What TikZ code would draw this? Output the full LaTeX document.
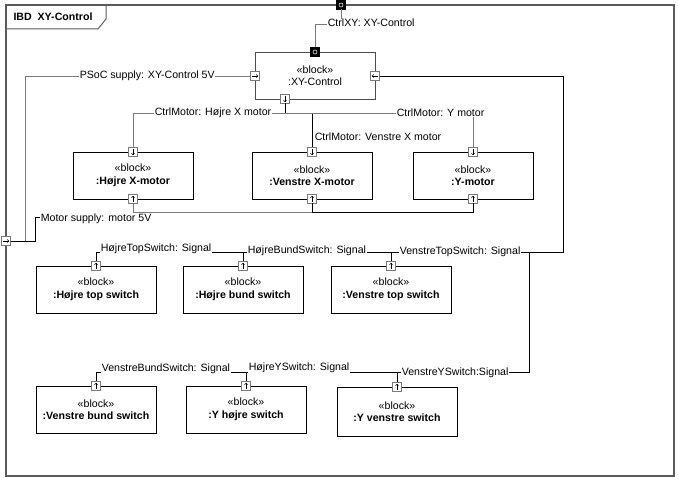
\documentclass[tikz,border=0pt]{standalone}
\usepackage{fontspec}
\setmainfont{Liberation Sans}
\usetikzlibrary{arrows.meta}
\definecolor{cg}{HTML}{7A7A7A}
\definecolor{frc}{HTML}{5A5A5A}
\begin{document}
\begin{tikzpicture}[x=1pt,y=-1pt, font=\fontsize{10.6}{12.5}\selectfont,
  blk/.style={draw=black, line width=0.8pt, fill=white, minimum width=120pt, minimum height=47pt, align=center, inner sep=0pt},
  port/.style={draw=cg, fill=white, line width=0.9pt, minimum size=9pt, inner sep=0pt, outer sep=0pt},
  parr/.style={black, line width=0.55pt, -{Straight Barb[length=1.6pt,width=3pt]}},
  pdn/.style={port, path picture={\draw[parr] ([yshift=-1.3pt]path picture bounding box.north) -- ([yshift=1.3pt]path picture bounding box.south);}},
  pup/.style={port, path picture={\draw[parr] ([yshift=1.3pt]path picture bounding box.south) -- ([yshift=-1.3pt]path picture bounding box.north);}},
  prt/.style={port, path picture={\draw[parr] ([xshift=1.3pt]path picture bounding box.west) -- ([xshift=-1.3pt]path picture bounding box.east);}},
  plt/.style={port, path picture={\draw[parr] ([xshift=-1.3pt]path picture bounding box.east) -- ([xshift=1.3pt]path picture bounding box.west);}},
  pblk/.style={draw=black, fill=black, minimum size=9pt, inner sep=0pt, outer sep=0pt, path picture={\draw[white, line width=0.5pt] (path picture bounding box.center) circle (2pt);}},
  conn/.style={draw=black, line width=0.8pt},
  conng/.style={draw=cg, line width=0.8pt},
  lbl/.style={fill=white, inner sep=0.6pt, anchor=west},
]
\useasboundingbox (0,0) rectangle (678,478);
% frame
\draw[frc, line width=1.3pt] (6,5) rectangle (674,476);
\draw[frc, line width=1pt] (6,29) -- (98,29) -- (106,19) -- (106,5);
\node[anchor=west, font=\fontsize{10.6}{12.5}\selectfont\bfseries] (title) at (10,17) {IBD\ \ XY-Control};

% blocks
\node[blk, draw=gray!60!black] (xy) at (315,75.5) {«block»\\:XY-Control};
\node[blk] (hx) at (133,175.5) {«block»\\\textbf{:Højre X-motor}};
\node[blk] (vx) at (312,175.5) {«block»\\\textbf{:Venstre X-motor}};
\node[blk] (ym) at (473,175.5) {«block»\\\textbf{:Y-motor}};
\node[blk] (hts) at (96,289.5) {«block»\\\textbf{:Højre top switch}};
\node[blk] (hbs) at (243,289.5) {«block»\\\textbf{:Højre bund switch}};
\node[blk] (vts) at (391,289.5) {«block»\\\textbf{:Venstre top switch}};
\node[blk] (vbs) at (96,409.5) {«block»\\\textbf{:Venstre bund switch}};
\node[blk] (yhs) at (246,409.5) {«block»\\\textbf{:Y højre switch}};
\node[blk, minimum height=49pt] (yvs) at (397,411.5) {«block»\\\textbf{:Y venstre switch}};

% ports
\node[pblk] (fr_top) at (341,5) {};
\node[prt] (fr_l) at (6,241) {};
\node[pblk] (xy_top) at (315,52) {};
\node[prt] (xy_l) at (255,76) {};
\node[plt] (xy_r) at (375,76) {};
\node[pdn] (xy_b) at (285,99) {};
\node[pdn] (hx_t) at (133,152) {};
\node[pup] (hx_b) at (133,199) {};
\node[pdn] (vx_t) at (312,152) {};
\node[pup] (vx_b) at (312,199) {};
\node[pdn] (ym_t) at (473,152) {};
\node[pup] (ym_b) at (473,199) {};
\node[pup] (hts_t) at (96,266) {};
\node[pup] (hbs_t) at (243,266) {};
\node[pup] (vts_t) at (391,266) {};
\node[pup] (vbs_t) at (96,386) {};
\node[pup] (yhs_t) at (246,386) {};
\node[pup] (yvs_t) at (397,387) {};

% bend coordinates
\coordinate (kXY) at (341,24);
\coordinate (kP) at (25,241);
\coordinate (kM1) at (35,241);
\coordinate (kM2) at (133,217);
\coordinate (kB) at (312,212);
\coordinate (kC) at (285,113);
\coordinate (kS1) at (563,252);
\coordinate (kS2) at (529,252);
\coordinate (kS3) at (529,372);
\coordinate (kH1) at (391,252);
\coordinate (kH2) at (243,252);
\coordinate (kY1) at (397,372);
\coordinate (kY2) at (246,372);

% connectors
\draw[conng] (fr_top) -- (kXY) -| (xy_top);
\draw[conng] (xy_l) -| (kP) -- (fr_l);
\draw[conn] (fr_l) -- (kM1) |- (kM2) -- (hx_b);
\draw[conng] (hx_b) |- (kB);
\draw[conn] (vx_b) -- (kB) -| (ym_b);
\draw[conn] (xy_b) -- (kC);
\draw[conng] (kC) -| (hx_t);
\draw[conn] (kC) -| (vx_t);
\draw[conng] (kC) -| (ym_t);
\draw[conn] (xy_r) -| (kS1) -| (vts_t);
\draw[conn] (kH1) -| (hbs_t);
\draw[conn] (kH2) -| (hts_t);
\draw[conn] (kS2) -- (kS3) -| (yvs_t);
\draw[conn] (kY1) -| (yhs_t);
\draw[conn] (kY2) -| (vbs_t);

% labels
\node[lbl] (l1) at (327,23) {CtrlXY: XY-Control};
\node[lbl] (l2) at (79,76) {PSoC supply: XY-Control 5V};
\node[lbl] (l3) at (40,219) {Motor supply: motor 5V};
\node[lbl] (l4) at (154,113) {CtrlMotor: Højre X motor};
\node[lbl] (l5) at (314,137) {CtrlMotor: Venstre X motor};
\node[lbl] (l6) at (396,113) {CtrlMotor: Y motor};
\node[lbl] (l7) at (100,249) {HøjreTopSwitch: Signal};
\node[lbl] (l8) at (247,251) {HøjreBundSwitch: Signal};
\node[lbl] (l9) at (399,252) {VenstreTopSwitch: Signal};
\node[lbl] (l10) at (101,369) {VenstreBundSwitch: Signal};
\node[lbl] (l11) at (248,368) {HøjreYSwitch: Signal};
\node[lbl] (l12) at (401,373) {VenstreYSwitch:Signal};
\end{tikzpicture}
\end{document}
